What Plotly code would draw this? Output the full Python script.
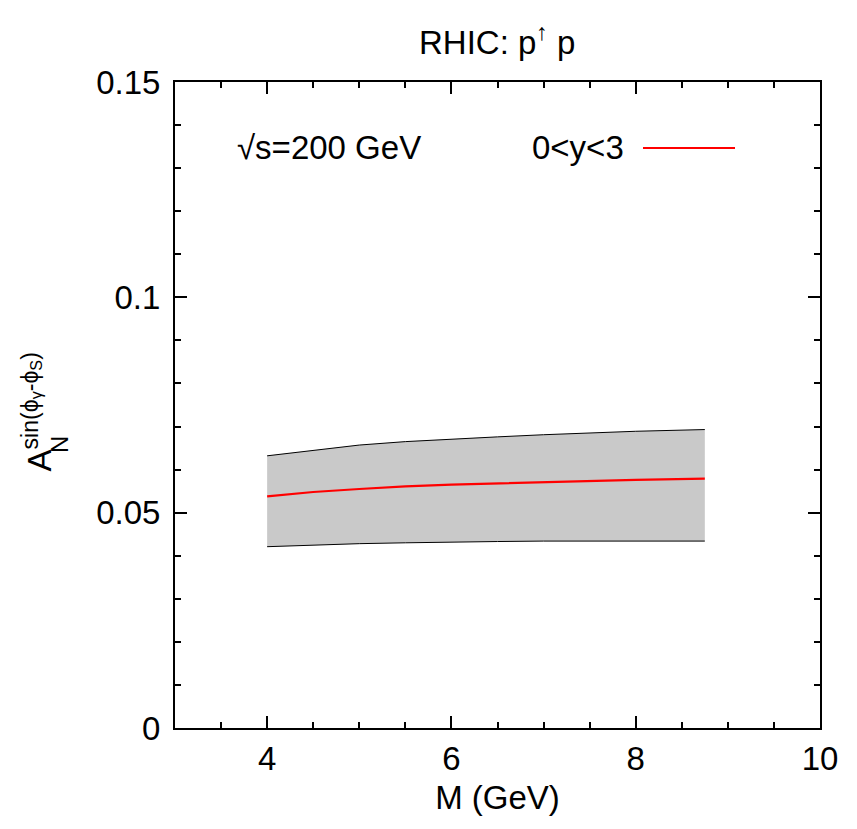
import plotly.graph_objects as go

# Data
mass = [4.0, 4.5, 5.0, 5.5, 6.0, 6.5, 7.0, 7.5, 8.0, 8.75]
an_upper = [0.0632, 0.0645, 0.0657, 0.0665, 0.0671, 0.0676, 0.0681, 0.0685, 0.0689, 0.0693]
an_center = [0.0538, 0.0548, 0.0555, 0.0561, 0.0565, 0.0568, 0.0571, 0.0574, 0.0576, 0.0579]
an_lower = [0.0421, 0.0425, 0.0428, 0.0430, 0.0432, 0.0433, 0.0434, 0.0434, 0.0434, 0.0434]

x_tickvals = [4, 6, 8, 10]
y_tickvals = [0, 0.05, 0.1, 0.15]
y_ticktext = ["0", "0.05", "0.1", "0.15"]

FONT = "Liberation Sans, Arial, sans-serif"
FS = 33

fig = go.Figure()
fig.add_trace(go.Scatter(x=mass, y=an_lower, mode="lines",
                         line=dict(color="black", width=1), showlegend=False,
                         hoverinfo="skip"))
fig.add_trace(go.Scatter(x=mass, y=an_upper, mode="lines", fill="tonexty",
                         fillcolor="#c9c9c9",
                         line=dict(color="black", width=1), showlegend=False,
                         hoverinfo="skip"))
fig.add_trace(go.Scatter(x=mass, y=an_center, mode="lines",
                         line=dict(color="#ff0000", width=2.2), name="0<y<3",
                         showlegend=False))

# page body has an 8px margin; figure sized to fill the rest of the window
OFF = 8
W, H = 857 - OFF, 829 - OFF
L, R, T, B = 175 - OFF, 37, 82 - OFF, 101
pw, ph = W - L - R, H - T - B

def px(xw):
    return (xw - OFF - L) / pw

def py(yw):
    return (H - B - (yw - OFF)) / ph

axis_common = dict(
    showline=True, linecolor="black", linewidth=2, mirror="allticks",
    ticks="inside", ticklen=12, tickwidth=2, tickcolor="black",
    showgrid=False, zeroline=False,
    tickfont=dict(family=FONT, size=FS, color="black"),
)

fig.update_xaxes(range=[3, 10], tickvals=x_tickvals,
                 minor=dict(ticks="inside", dtick=0.5, tick0=3, ticklen=6,
                            tickwidth=2, tickcolor="black", showgrid=False),
                 title=dict(text="M (GeV)", font=dict(family=FONT, size=FS, color="black"),
                            standoff=10),
                 **axis_common)
fig.update_yaxes(range=[0, 0.15], tickvals=y_tickvals, ticktext=y_ticktext,
                 minor=dict(ticks="inside", dtick=0.01, tick0=0, ticklen=6,
                            tickwidth=2, tickcolor="black", showgrid=False),
                 ticklabelstandoff=6,
                 **axis_common)

annotations = [
    dict(text="RHIC: p<sup>↑</sup> p", x=px(497), y=py(40), xref="paper", yref="paper",
         showarrow=False, font=dict(family=FONT, size=FS, color="black"),
         xanchor="center", yanchor="middle"),
    dict(text="√s=200 GeV", x=px(235), y=py(147), xref="paper", yref="paper",
         showarrow=False, font=dict(family=FONT, size=FS, color="black"),
         xanchor="left", yanchor="middle"),
    dict(text="0<y<3", x=px(626), y=py(147), xref="paper", yref="paper",
         showarrow=False, font=dict(family=FONT, size=FS, color="black"),
         xanchor="right", yanchor="middle"),
    # y-axis label: A with stacked superscript/subscript
    dict(text="A<sup>sin(ϕ<sub>γ</sub>-ϕ<sub>S</sub>)</sup>", x=px(37), y=py(474),
         xref="paper", yref="paper", showarrow=False, textangle=-90,
         font=dict(family=FONT, size=FS, color="black"),
         xanchor="center", yanchor="bottom"),
    dict(text="N", x=px(59), y=py(445), xref="paper", yref="paper",
         showarrow=False, textangle=-90,
         font=dict(family=FONT, size=24, color="black"),
         xanchor="center", yanchor="middle"),
]

shapes = [
    dict(type="line", xref="paper", yref="paper", x0=px(643), x1=px(735),
         y0=py(148), y1=py(148), line=dict(color="#ff0000", width=2.2)),
]

fig.update_layout(
    width=W, height=H,
    margin=dict(l=L, r=R, t=T, b=B),
    paper_bgcolor="white", plot_bgcolor="white",
    annotations=annotations, shapes=shapes,
    showlegend=False,
)

fig.write_html("out.html")
